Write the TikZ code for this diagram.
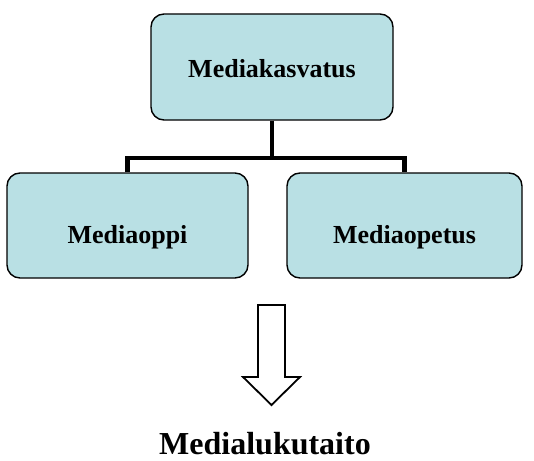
\documentclass[tikz,border=0pt]{standalone}
\usepackage{fontspec}
\setmainfont{Liberation Serif}
\usetikzlibrary{positioning}
\definecolor{boxblue}{RGB}{185,224,228}

\begin{document}
\begin{tikzpicture}[x=1pt,y=-1pt,
    box/.style={draw, rounded corners=13pt, fill=boxblue, line width=1.4pt,
      font=\fontsize{26}{30}\selectfont\bfseries, text depth=0pt},
    link/.style={line width=4.2pt}]
            \useasboundingbox (0,0) rectangle (534,460);
            % tree of the three terms
            \node[box, minimum width=242pt, minimum height=106pt, text height=20pt] (kasvatus) at (272,67) {Mediakasvatus};
            \node[box, minimum width=241pt, minimum height=105pt, text height=35pt] (oppi) at (127.5,225.5) {Mediaoppi};
            \node[box, minimum width=235pt, minimum height=105pt, text height=35pt] (opetus) at (404.5,225.5) {Mediaopetus};
            \coordinate (hub) at (272,158);

            \draw[link] (kasvatus.south) -- (hub);
            \draw[link] (oppi.north) |- (hub) -| (opetus.north);

            % hollow arrow down to the result
            \node[font=\fontsize{32}{36}\selectfont\bfseries, anchor=base, inner sep=1pt, text depth=0pt] (lukutaito) at (265,454) {Medialukutaito};
            \draw[line width=1.8pt, line join=miter, fill=white]
              (258,305) -- (285,305) -- (285,377) -- (300,377) -- (271.5,405)
              -- (243,377) -- (258,377) -- cycle;
        \end{tikzpicture}
\end{document}
